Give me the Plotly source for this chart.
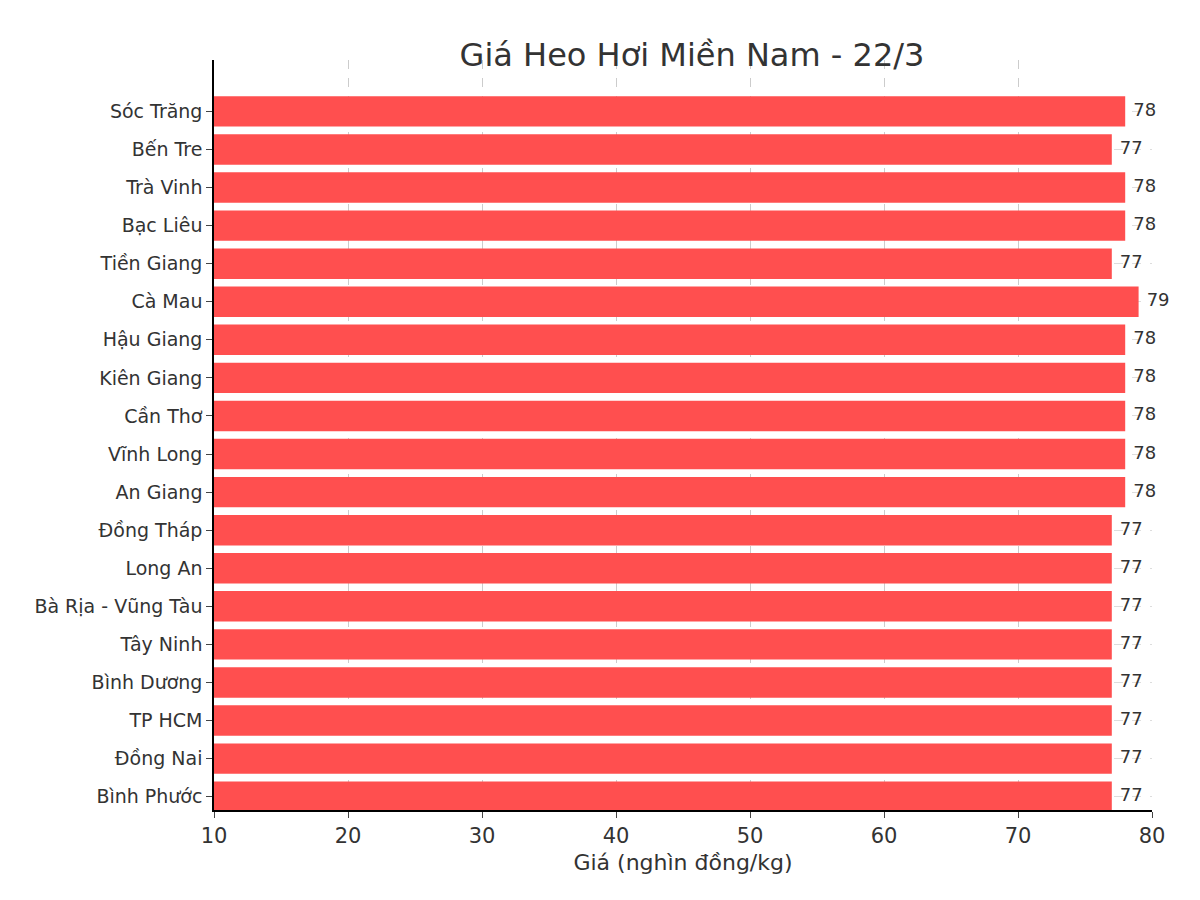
import plotly.graph_objects as go

provinces = ["Sóc Trăng","Bến Tre","Trà Vinh","Bạc Liêu","Tiền Giang","Cà Mau","Hậu Giang",
             "Kiên Giang","Cần Thơ","Vĩnh Long","An Giang","Đồng Tháp","Long An",
             "Bà Rịa - Vũng Tàu","Tây Ninh","Bình Dương","TP HCM","Đồng Nai","Bình Phước"]
prices = [78,77,78,78,77,79,78,78,78,78,78,77,77,77,77,77,77,77,77]
x_ticks = [10,20,30,40,50,60,70,80]

fig = go.Figure()
fig.add_trace(go.Bar(x=prices, y=provinces, orientation="h", base=0,
                     marker=dict(color="#ff4f4f", line=dict(width=0)), width=0.8))
fig.add_trace(go.Scatter(x=[p + 0.6 for p in prices], y=provinces, mode="text",
                         text=[str(p) for p in prices], textposition="middle right",
                         textfont=dict(size=18, color="#333333"), cliponaxis=False))
fig.update_layout(
    width=1200, height=900, showlegend=False, plot_bgcolor="white", paper_bgcolor="white",
    font=dict(family="DejaVu Sans", color="#333333"),
    margin=dict(l=206, r=56, t=52, b=98),
    title=dict(text="Giá Heo Hơi Miền Nam - 22/3", x=0.57, xanchor="center", y=0.96,
               font=dict(size=32, color="#333333")),
)
fig.update_xaxes(range=[10, 80], tickvals=x_ticks, tickfont=dict(size=21),
                 title=dict(text="Giá (nghìn đồng/kg)", font=dict(size=22), standoff=8),
                 showline=True, linecolor="black", linewidth=1.5, ticks="outside", ticklen=6,
                 showgrid=True, gridcolor="#cccccc", griddash="dash", zeroline=False,
                 layer="above traces")
fig.update_yaxes(categoryorder="array", categoryarray=provinces, range=[18.35, -1.35],
                 tickfont=dict(size=19), showline=True, linecolor="black", linewidth=1.5,
                 ticks="outside", ticklen=6, showgrid=True, gridcolor="#dddddd", griddash="dash",
                 layer="above traces")
fig.write_html("out.html")
